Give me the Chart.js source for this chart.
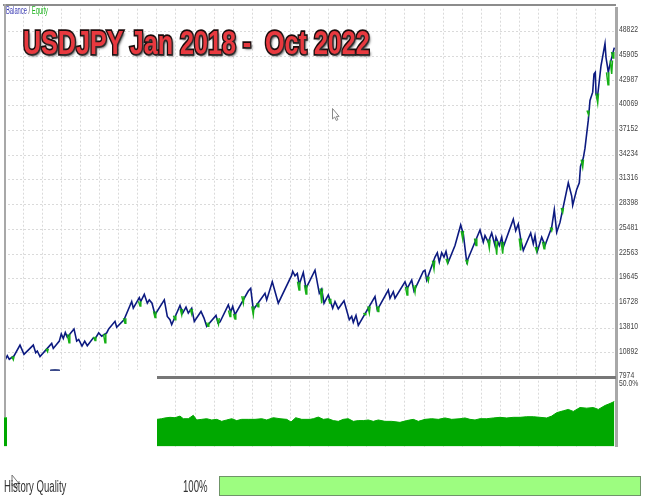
<!DOCTYPE html>
<html><head><meta charset="utf-8">
<script src="https://cdn.jsdelivr.net/npm/chart.js@4"></script>
<style>
html,body{margin:0;padding:0;background:#fff;width:652px;height:497px;overflow:hidden}
#wrap{position:relative;width:652px;height:497px;filter:blur(.35px)}
canvas{position:absolute;left:0;top:0}
.o{position:absolute;white-space:nowrap;transform-origin:0 0}
#title{left:23px;top:24px;font:bold 33px "Liberation Sans",Arial,sans-serif;color:#e8393f;-webkit-text-stroke:3.5px #1a0c0c;paint-order:stroke fill;text-shadow:2px 2px 3px #333;transform:scaleX(.76)}
#lg{left:6px;top:5px;font:10px "Liberation Sans",sans-serif;color:#555;transform:scaleX(.58)}
.hq{font:16px "Liberation Sans",sans-serif;color:#333}
</style></head><body><div id="wrap">
<canvas id="c" width="652" height="497"></canvas>
<div class="o" style="left:3px;top:4px;width:613px;height:2px;background:#8c8c8c"></div>
<div class="o" style="left:3.5px;top:4px;width:2px;height:413px;background:#a8a8a8"></div>
<div class="o" style="left:5.5px;top:370px;width:151.5px;height:47px;background:#fff"></div>
<div class="o" style="left:7px;top:417px;width:150px;height:31px;background:#fff"></div>
<div class="o" style="left:157px;top:376px;width:459px;height:2.5px;background:#777"></div>
<div class="o" style="left:50px;top:369px;width:10px;height:1.5px;background:#3b4a8a;border-radius:50% 50% 0 0"></div>
<svg class="o" style="left:0;top:0" width="652" height="497"><path d="M332.5 108.5v10.5l2.2-2 1.6 3.5 1.6-.8-1.6-3.3h2.8z" fill="#fff" stroke="#888" stroke-width="1"/><path d="M12 475v11l2.2-2 1.8 4 1.6-.8-1.7-3.7h3z" fill="#fff" stroke="#777" stroke-width="1"/></svg>
<div class="o" id="title">USDJPY Jan 2018 -&nbsp; Oct 2022</div>
<div class="o" id="lg"><span style="color:#3c3cb4">Balance</span> / <span style="color:#22b422">Equity</span></div>
<div class="o hq" style="left:4px;top:478px;transform:scaleX(.6)">History Quality</div>
<div class="o hq" style="left:183px;top:478px;transform:scaleX(.6)">100%</div>
<div class="o" style="left:219px;top:476px;width:420px;height:18px;background:#9dfd80;border:1px solid #6f9468"></div>
</div>
<script>
const balanceX=[5,7.3,9.3,14,20,24,33.3,35.7,37.3,40,51.7,53.3,59.3,61.3,63.3,65.3,67.3,74,76.7,78.7,82,84.7,87.3,93.3,95.3,98.7,101.7,106.7,108.7,115,116.7,124,131.7,133.3,139.3,140.7,144.3,147.3,149.3,152,155,164.3,167.3,170,171.7,176,180,182.7,186,188.3,191.7,194.3,201,204,206.7,216,218,
220,228.3,230.7,232.7,235,248.3,250.7,253.3,265,266.7,272.3,278.3,291.7,292.7,295,297.3,299.3,303.3,306,315,319.3,321.7,324,328.3,332.7,335,338.3,344,349.3,351.7,353.3,356,358.3,375,377.3,388.3,390,393.3,395,405,407.3,411.7,414,
420,423.3,425,426.7,435,437.3,439.3,441.7,444,446,448.3,455,460.7,463.3,466.7,480,483.3,485,488.3,491.7,495,496,499.3,501.7,503.3,513.3,515.7,518.3,520.7,523.3,530.7,533.3,535,537.3,541.7,545,551.7,554.3,556.7,560,568.3,571.7,572.7,576.7,579.3,
580.5,583.3,585,588.3,590,592.7,594,595.3,596,597.3,601,605,606,607.3,608.3,610,614.3];
const balanceY=[10036,10580,10153,10541,11825,10736,11825,10930,11125,10464,12020,11436,12292,13148,12603,13303,12759,13731,12292,12486,11708,12292,11747,12681,12603,13265,12875,13265,13731,14626,13926,14820,16960,16182,17427,16960,17816,16766,17155,16766,15404,17155,15210,14820,14237,15404,16493,15598,16299,15598,16182,14626,15793,15015,14042,15326,14432,
14548,16571,15715,16377,15404,18205,18516,15988,17933,17155,19294,16766,20072,20539,19994,20267,18983,20383,18516,20656,17933,18438,16766,17738,16182,16960,16104,17038,14821,15210,14509,15326,14159,17544,15988,18322,17349,18127,17349,19294,18516,19489,18205,
19683,20539,20656,19489,22212,22717,21628,22717,22212,22873,21628,23573,25985,24934,21628,25401,23962,24740,23962,25051,23573,24546,23573,24546,23378,26685,25324,26102,24351,22990,25051,23768,24740,22873,24546,23573,25712,27774,25129,26296,30964,29408,28319,30186,30964,
32909,33881,35048,38355,40689,41661,43801,43996,41467,40883,44774,47380,45746,44774,43996,44968,46913];
const dipX=[13.3,47.5,69,95,105,125,140,155,175,181.7,191.7,208,218.5,230,235,243.3,253.3,258,299,306,321.7,330,365,369.3,378,407,415,428.3,434,447.5,462.7,467.3,476,489.3,496.7,502.7,520.7,536.7,544,551.7,562.7,582.7,588.5,597.7,608,611.7,613];
const dipTop=[10500,11400,13100,12800,13150,15000,17000,15800,15300,16100,16100,14500,15000,15900,15500,17600,16400,16750,19300,18900,18500,17300,15600,16400,16400,18700,18900,19900,21800,22000,25300,21900,24400,24300,24100,24000,24400,23400,24000,25700,28000,33700,39500,41500,44000,45400,46400];
const dipLow=[10100,11050,12100,12370,12100,14400,16450,15090,14820,15400,15480,14040,14300,15210,14900,16770,15400,16350,18320,17850,16770,16770,15400,15600,15800,17740,18050,19370,20800,21500,24350,21430,23570,23260,22480,22600,22990,22870,23180,25320,27460,32830,39000,40380,42520,43800,45700];
const marginLeftX=[4,7],marginLeftY=[23.2,23.2];
const marginX=[157,161.7,165,170,175,180,183.3,188.3,193.3,196.7,201.7,206.7,211.7,216.7,221.7,226.7,231.7,236.7,241.7,248.3,255,261.7,266.7,273.3,280,286.7,291,295.7,301.7,310,313.3,318.3,323.3,328.3,333.3,338.3,343.3,348.3,353.3,358.3,363.3,368.3,373.3,378.3,385,391.7,400,406.7,413.3,418.3,425,431.7,438.3,445,451.7,460,465,470,475,480,486.7,493.3,500,506.7,513.3,520,526.7,533.3,540,546.7,551.7,556.7,563.3,568.3,573.3,580,586.7,593.3,598.3,605,610,614.3];
const marginY=[21.6,22.1,22.7,23.2,22.9,24.2,22.1,22.1,24.8,21.1,21.6,22.1,21.1,21.6,20,21.1,22.1,20.6,21.6,21.6,21.6,22.1,21.1,22.9,22.1,21.6,19.5,22.9,21.6,21.6,22.1,23.4,21.6,22.1,20.6,20,21.6,22.1,20,20.6,20.6,21.1,20,21.1,20,20,19.2,20.6,21.6,20,21.6,22.1,21.6,22.7,21.6,22.1,22.7,21.6,21.1,22.1,22.1,22.7,23.2,22.7,23.2,23.2,23.7,23.7,23.2,22.7,24.2,26.9,28.4,29.5,27.9,31,30.5,31,29.5,32.6,34.2,35.8];
const yTicks=[48822,45905,42987,40069,37152,34234,31316,28398,25481,22563,19645,16728,13810,10892,7974];
const y2Ticks=[50];
const xGrid=[23.3,42.4,61.5,80.5,99.6,118.7,137.8,156.9,175.9,195,214.1,233.2,252.3,271.3,290.4,309.5,328.6,347.7,366.7,385.8,404.9,424,443.1,462.1,481.2,500.3,519.4,538.5,557.5,576.6,595.7];

const pts=(xs,ys)=>xs.map((x,i)=>({x,y:ys[i]}));
const dipPts=[];dipX.forEach((x,i)=>{dipPts.push({x:x-1.5,y:dipTop[i]},{x,y:dipLow[i]},{x:x+.8,y:dipTop[i]},{x,y:null});});
const narrowTicks=dy=>a=>{const draw=a.drawLabels;a.drawLabels=function(area){const c=this.ctx,x0=this.left+3;c.save();c.translate(x0,dy);c.scale(.72,1);c.translate(-x0,0);draw.call(this,area);c.restore();};};
new Chart(document.getElementById('c'),{
 type:'line',
 data:{datasets:[
  {label:'Equity',data:dipPts,yAxisID:'y',borderColor:'#16b016',borderWidth:1.5,pointRadius:0,tension:0,spanGaps:false},
  {label:'Balance',data:pts(balanceX,balanceY),yAxisID:'y',borderColor:'#0c1a80',borderWidth:1.6,pointRadius:0,tension:0},
  {label:'Margin',data:pts(marginX,marginY),yAxisID:'y2',borderColor:'#00a800',backgroundColor:'#00a800',borderWidth:1,fill:'origin',pointRadius:0,tension:0},
  {label:'MarginStart',data:pts(marginLeftX,marginLeftY),yAxisID:'y2',borderColor:'#00a800',backgroundColor:'#00a800',borderWidth:0,fill:'origin',pointRadius:0,tension:0}
 ]},
 options:{
  responsive:false,animation:false,devicePixelRatio:1,
  layout:{padding:{left:4,top:4,right:0,bottom:50.5}},
  plugins:{legend:{display:false},tooltip:{enabled:false}},
  scales:{
   x:{type:'linear',min:4,max:616,
      grid:{color:'#dadada',drawTicks:false},border:{display:false,dash:[2,2]},
      ticks:{display:false},
      afterBuildTicks:a=>{a.ticks=xGrid.map(value=>({value}));},
      afterFit:a=>{a.height=0;}},
   y:{type:'linear',position:'right',stack:'p',stackWeight:373,min:7974,max:51503,
      grid:{color:'#dadada',drawTicks:false},
      border:{color:'#a8a8a8',width:3,dash:[2,2]},
      ticks:{font:{family:'"Liberation Sans",sans-serif',size:9.5},color:'#444',padding:3,autoSkip:false,maxRotation:0,
             callback:v=>String(v)},
      afterBuildTicks:a=>{a.ticks=yTicks.map(value=>({value}));},
      afterFit:a=>{a.width=36;},afterUpdate:narrowTicks(-2)},
   y2:{type:'linear',position:'right',stack:'p',stackWeight:69.5,min:0,max:54.7,
      grid:{display:false,drawTicks:false},
      border:{color:'#a8a8a8',width:3},
      ticks:{font:{family:'"Liberation Sans",sans-serif',size:9.5},color:'#444',padding:3,autoSkip:false,maxRotation:0,
             callback:v=>v.toFixed(1)+'%'},
      afterBuildTicks:a=>{a.ticks=y2Ticks.map(value=>({value}));},
      afterFit:a=>{a.width=36;},afterUpdate:narrowTicks(0)}
  }
 }
});
</script></body></html>
